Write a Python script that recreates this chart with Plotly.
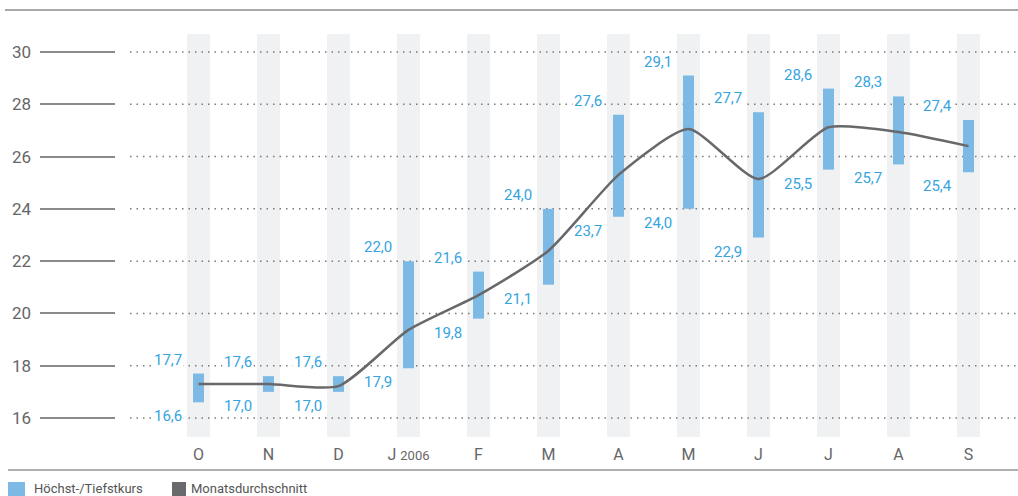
import plotly.graph_objects as go

months = ["O", "N", "D", "J <span style='font-size:13px'>2006</span>", "F", "M", "A", "M", "J", "J", "A", "S"]
highs = [17.7, 17.6, 17.6, 22.0, 21.6, 24.0, 27.6, 29.1, 27.7, 28.6, 28.3, 27.4]
lows = [16.6, 17.0, 17.0, 17.9, 19.8, 21.1, 23.7, 24.0, 22.9, 25.5, 25.7, 25.4]
avg = [17.3, 17.3, 17.22, 19.37, 20.7, 22.4, 25.3, 27.05, 25.14, 27.12, 26.94, 26.4]
yticks = [16, 18, 20, 22, 24, 26, 28, 30]
legend_labels = ["Höchst-/Tiefstkurs", "Monatsdurchschnitt"]

FONT = "Roboto"
BLUE_BAR = "#7cb9e4"
BLUE_TXT = "#35a4df"
GREY_LINE = "#68686a"

x = list(range(len(months)))

# layout geometry (pixels)
W, H = 1018, 496
ML, MR, MT, MB = 40, 0, 34, 59
PW = W - ML - MR
PH = H - MT - MB
x0px, step = 198.5, 70.0
xr = [-(x0px - ML) / step, (W - x0px) / step]
y16px = 418 - MT
ppu = (418 - 52) / 14.0
yr = [16 - (PH - y16px) / ppu, 16 + y16px / ppu]

def px2paper_x(px):
    return (px - ML) / PW

def px2paper_y(py):
    return (H - MB - py) / PH

def near_grid(v, shift):
    c = v + shift / ppu
    return min(abs(c - t) for t in yticks) * ppu < 9

fig = go.Figure()

fig.add_trace(go.Bar(
    x=x, y=[h - l for h, l in zip(highs, lows)], base=lows,
    width=11 / step, marker=dict(color=BLUE_BAR, line=dict(width=0)),
    showlegend=False, hoverinfo="skip"))

fig.add_trace(go.Scatter(
    x=x, y=avg, mode="lines",
    line=dict(color=GREY_LINE, width=2.5, shape="spline", smoothing=0.6),
    showlegend=False, hoverinfo="skip"))

shapes = []
for i in x:
    shapes.append(dict(type="rect", xref="x", yref="paper", x0=i - 11.5 / step, x1=i + 11.5 / step,
                       y0=0, y1=1, fillcolor="#f0f1f3", line=dict(width=0), layer="below"))
for v in yticks:
    shapes.append(dict(type="line", xref="paper", yref="y", x0=px2paper_x(130), x1=1, y0=v, y1=v,
                       line=dict(color="#7a7a7a", width=1.5, dash="1.5px,5px"), layer="below"))
shapes.append(dict(type="line", xref="paper", yref="paper", x0=px2paper_x(5), x1=1,
                   y0=px2paper_y(10), y1=px2paper_y(10), line=dict(color="#a8a8a8", width=2)))
shapes.append(dict(type="line", xref="paper", yref="paper", x0=px2paper_x(8), x1=1,
                   y0=px2paper_y(470), y1=px2paper_y(470), line=dict(color="#b0b0b0", width=2)))
shapes.append(dict(type="rect", xref="paper", yref="paper", x0=px2paper_x(8), x1=px2paper_x(25),
                   y0=px2paper_y(497), y1=px2paper_y(482), fillcolor=BLUE_BAR, line=dict(width=0)))
shapes.append(dict(type="rect", xref="paper", yref="paper", x0=px2paper_x(172), x1=px2paper_x(186),
                   y0=px2paper_y(497), y1=px2paper_y(482), fillcolor="#6a6a6c", line=dict(width=0)))

annotations = []
for i in x:
    for val, sh in ((highs[i], 14), (lows[i], -14)):
        annotations.append(dict(x=i, y=val, xref="x", yref="y", text=f"{val:.1f}".replace(".", ","),
                                showarrow=False, xanchor="right", yanchor="middle", xshift=-15, yshift=sh,
                                bgcolor="white" if near_grid(val, sh) else "rgba(0,0,0,0)", borderpad=1,
                                font=dict(family=FONT, size=15, color=BLUE_TXT)))
annotations.append(dict(x=px2paper_x(32), y=px2paper_y(489), xref="paper", yref="paper",
                        text=legend_labels[0], showarrow=False, xanchor="left", yanchor="middle",
                        font=dict(family=FONT, size=13, color="#555")))
annotations.append(dict(x=px2paper_x(189), y=px2paper_y(489), xref="paper", yref="paper",
                        text=legend_labels[1], showarrow=False, xanchor="left", yanchor="middle",
                        font=dict(family=FONT, size=13, color="#555")))

fig.update_layout(
    width=W, height=H,
    margin=dict(l=ML, r=MR, t=MT, b=MB, pad=0),
    paper_bgcolor="white", plot_bgcolor="rgba(0,0,0,0)",
    shapes=shapes, annotations=annotations,
    showlegend=False,
    xaxis=dict(range=xr, tickmode="array", tickvals=x, ticktext=months,
               showgrid=False, zeroline=False, showline=False, ticks="",
               ticklabelstandoff=6,
               tickfont=dict(family=FONT, size=16, color="#666"), fixedrange=True),
    yaxis=dict(range=yr, tickmode="array", tickvals=yticks, ticktext=[str(v) for v in yticks],
               showgrid=False, zeroline=False, showline=False,
               ticks="inside", ticklen=75, tickwidth=1.5, tickcolor="#8a8a8a",
               ticklabelstandoff=8,
               tickfont=dict(family=FONT, size=17, color="#666"), fixedrange=True),
)

fig.write_html("out.html", config={"displayModeBar": False},
               post_script="document.body.style.margin='0';document.body.style.overflow='hidden';")
